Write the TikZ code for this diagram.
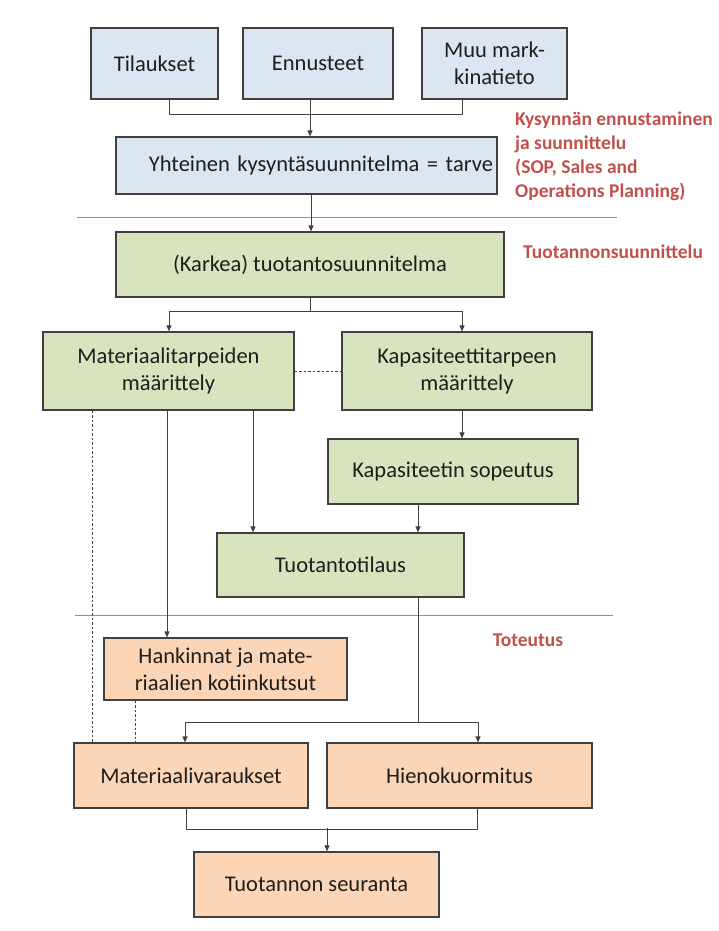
\documentclass[tikz,border=0pt]{standalone}
\usepackage{fontspec}
\setmainfont{Carlito}
\usepackage{tikz}
\usetikzlibrary{positioning, arrows.meta, calc}
\definecolor{boxblue}{HTML}{DCE6F2}
\definecolor{boxgreen}{HTML}{D7E4BD}
\definecolor{boxorange}{HTML}{FBD5B5}
\definecolor{boxline}{HTML}{404040}
\definecolor{textdark}{HTML}{1E1E1E}
\definecolor{phasered}{HTML}{C0504D}
\definecolor{dividerred}{HTML}{D07878}
\newcommand{\diagfont}{\fontsize{22.5}{27}\selectfont}
\newcommand{\phasefont}{\fontsize{19.5}{24}\selectfont\bfseries}
\tikzset{
  planbox/.style={rectangle, draw=boxline, line width=1.2pt, text=textdark, align=center, inner sep=4pt, font=\diagfont},
  bluebox/.style={planbox, fill=boxblue},
  greenbox/.style={planbox, fill=boxgreen},
  orangebox/.style={planbox, fill=boxorange},
  link/.style={draw=boxline, line width=0.9pt},
  arrow/.style={link, -{Triangle[length=6pt,width=5pt]}},
  dashlink/.style={link, dash pattern=on 2.5pt off 2pt},
  divider/.style={draw=dividerred, line width=1pt},
  phase/.style={text=phasered, font=\phasefont, align=left, inner sep=0pt}
}

\begin{document}
\begin{tikzpicture}[x=1pt, y=-1pt]
\useasboundingbox (0,0) rectangle (718,931);

% ==========================================
% 1. Kysynnän ennustaminen
% ==========================================
\node[bluebox, minimum width=127pt, minimum height=71pt] (til) at (154.5,63.5) {Tilaukset};
\node[bluebox, minimum width=150pt, minimum height=71pt] (enn) at (318,63.5) {Ennusteet};
\node[bluebox, minimum width=145pt, minimum height=71pt] (muu) at (494.5,63.5) {Muu mark-\\kinatieto};
\node[bluebox, minimum width=381pt, minimum height=57pt, text width=373pt, align=right] (yht) at (306.5,165.5) {Yhteinen kysyntäsuunnitelma = tarve};

\draw[link] ([xshift=14.5pt]til.south) |- ([xshift=-32.5pt,yshift=-15pt]muu.south) -- ([xshift=-32.5pt]muu.south);
\draw[arrow] ([xshift=-8pt]enn.south) -- ([xshift=3.5pt]yht.north);

\node[phase, anchor=west] (kys) at (515,156) {Kysynnän ennustaminen\\ja suunnittelu\\(SOP, Sales and\\Operations Planning)};

\draw[divider] (77,217) -- (617,217);

% ==========================================
% 2. Tuotannonsuunnittelu
% ==========================================
\node[greenbox, minimum width=388pt, minimum height=65pt] (kar) at (310,264.5) {(Karkea) tuotantosuunnitelma};
\node[phase] (tsu) at (613,252) {Tuotannonsuunnittelu};

\draw[arrow] ([xshift=4.5pt]yht.south) -- ([xshift=1pt]kar.north);

\node[greenbox, minimum width=251pt, minimum height=78pt] (mtar) at (168.5,371) {Materiaalitarpeiden\\määrittely};
\node[greenbox, minimum width=250pt, minimum height=78pt] (ktar) at (467,371) {Kapasiteettitarpeen\\määrittely};
\node[greenbox, minimum width=250pt, minimum height=65pt] (ksop) at (453,471.5) {Kapasiteetin sopeutus};
\node[greenbox, minimum width=247pt, minimum height=64pt] (ttil) at (340.5,565) {Tuotantotilaus};

\draw[arrow] (kar.south) -- ++(0,14) -| ([xshift=0.5pt]mtar.north);
\draw[arrow] (kar.south) -- ++(0,14) -| ([xshift=-5pt]ktar.north);
\draw[dashlink] (mtar.east) -- (ktar.west);
\draw[arrow] ([xshift=-5pt]ktar.south) -- ([xshift=9pt]ksop.north);
\draw[arrow] ([xshift=-35pt]ksop.south) -- ([xshift=77.5pt]ttil.north);
\draw[arrow] ([xshift=84.5pt]mtar.south) -- ([xshift=-87.5pt]ttil.north);

\draw[divider] (75,615) -- (613,615);

% ==========================================
% 3. Toteutus
% ==========================================
\node[phase] (tot) at (528,640) {Toteutus};

\node[orangebox, minimum width=243pt, minimum height=62pt] (hank) at (225.5,669) {Hankinnat ja mate-\\riaalien kotiinkutsut};
\node[orangebox, minimum width=234pt, minimum height=65pt] (mvar) at (191,775.5) {Materiaalivaraukset};
\node[orangebox, minimum width=265pt, minimum height=65pt] (hien) at (459.5,775.5) {Hienokuormitus};
\node[orangebox, minimum width=245pt, minimum height=65pt] (tseur) at (316.5,884.5) {Tuotannon seuranta};

\draw[arrow] ([xshift=-1.5pt]mtar.south) -- ([xshift=-58.5pt]hank.north);
\draw[dashlink] ([xshift=-76.5pt]mtar.south) -- ([xshift=-99pt]mvar.north);
\draw[dashlink] ([xshift=-90.5pt]hank.south) -- ([xshift=-56pt]mvar.north);

\draw[arrow] ([xshift=77.5pt]ttil.south) -- ++(0,125) -| ([xshift=-6pt]mvar.north);
\draw[arrow] ([xshift=77.5pt]ttil.south) -- ++(0,125) -| ([xshift=18.5pt]hien.north);

\draw[link] ([xshift=-5pt]mvar.south) |- ([xshift=17.5pt,yshift=-21pt]hien.south) -- ([xshift=17.5pt]hien.south);
\draw[arrow] ([xshift=10.5pt,yshift=23pt]tseur.north) -- ([xshift=10.5pt]tseur.north);

\end{tikzpicture}
\end{document}
